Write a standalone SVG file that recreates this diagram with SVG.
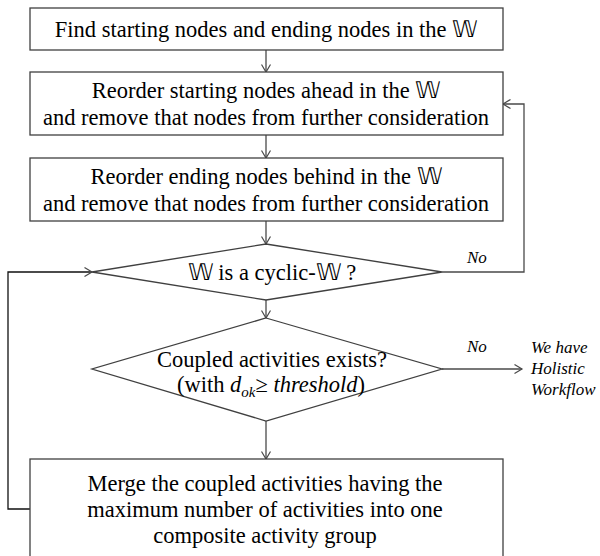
<svg xmlns="http://www.w3.org/2000/svg" width="600" height="556" viewBox="0 0 600 556">
<defs>
<style>
.box{fill:#fff;stroke:#404040;stroke-width:1.3}
.t{font-family:'Liberation Serif','Times New Roman',serif;font-size:22.5px;fill:#000;text-anchor:middle}
.lab{font-family:'Liberation Serif','Times New Roman',serif;font-size:17px;font-style:italic;fill:#000}
.c{fill:none;stroke:#4a4a4a;stroke-width:1.3}
.k{fill:none;stroke:#111;stroke-width:1.3}
</style>
<marker id="ah" viewBox="0 0 10 10" refX="8" refY="5" markerWidth="10" markerHeight="10" markerUnits="userSpaceOnUse" orient="auto">
<path d="M0.5,0.5 L8,5 L0.5,9.5" fill="none" stroke="#4a4a4a" stroke-width="1.2"/>
</marker>
</defs>
<g id="connectors">
<line class="c" x1="266" y1="50" x2="266" y2="72" marker-end="url(#ah)"/>
<line class="c" x1="266" y1="135" x2="266" y2="158" marker-end="url(#ah)"/>
<line class="c" x1="266" y1="221" x2="266" y2="244" marker-end="url(#ah)"/>
<polyline class="c" points="442,272 524,272 524,104 503,104" marker-end="url(#ah)"/>
<line class="c" x1="266" y1="300" x2="266" y2="318" marker-end="url(#ah)"/>
<line class="c" x1="442" y1="369" x2="522" y2="369" marker-end="url(#ah)"/>
<line class="c" x1="266" y1="421" x2="266" y2="459" marker-end="url(#ah)"/>
<polyline class="k" points="30,509 8,509 8,272 92,272" marker-end="url(#ah)"/>
<text class="lab" x="467" y="263">No</text>
<text class="lab" x="467" y="352">No</text>
</g>
<g id="n1">
<rect class="box" x="30" y="8" width="473" height="42"/>
<text class="t" x="266" y="37">Find starting nodes and ending nodes in the 𝕎</text>
</g>
<g id="n2">
<rect class="box" x="30" y="72" width="473" height="63"/>
<text class="t" x="266" y="98">Reorder starting nodes ahead in the 𝕎</text>
<text class="t" x="266" y="125">and remove that nodes from further consideration</text>
</g>
<g id="n3">
<rect class="box" x="30" y="158" width="473" height="63"/>
<text class="t" x="266" y="184">Reorder ending nodes behind in the 𝕎</text>
<text class="t" x="266" y="211">and remove that nodes from further consideration</text>
</g>
<g id="n4">
<polygon class="box" points="266,244 442,272 266,300 92,272"/>
<text class="t" x="272" y="280">𝕎 is a cyclic-𝕎 ?</text>
</g>
<g id="n5">
<polygon class="box" points="266,318 442,369 266,421 92,369"/>
<text class="t" x="272" y="367">Coupled activities  exists?</text>
<text class="t" x="271" y="392">(with <tspan font-style="italic">d</tspan><tspan font-style="italic" font-size="15" dy="5">ok</tspan><tspan dy="-5">≥ </tspan><tspan font-style="italic">threshold</tspan>)</text>
</g>
<g id="n6">
<rect class="box" x="30" y="459" width="473" height="110"/>
<text class="t" x="265" y="491">Merge the coupled activities  having the</text>
<text class="t" x="265" y="517">maximum number of activities  into one</text>
<text class="t" x="265" y="543">composite activity  group</text>
</g>
<g id="n7">
<text class="lab" x="531" y="353">We have</text>
<text class="lab" x="531" y="374">Holistic</text>
<text class="lab" x="531" y="395">Workflow</text>
</g>
</svg>
